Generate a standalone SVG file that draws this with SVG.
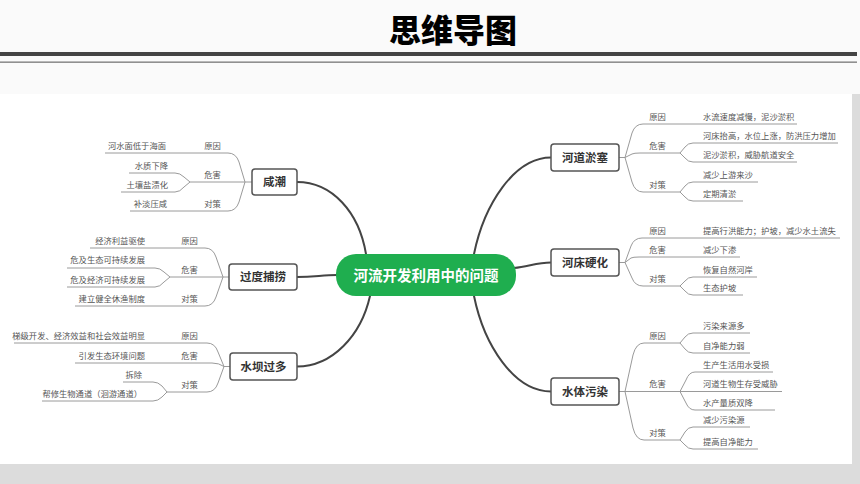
<svg xmlns="http://www.w3.org/2000/svg" width="860" height="484" viewBox="0 0 860 484">
<style>
.t{font-family:"Noto Sans CJK SC","Noto Sans",sans-serif}
.leaf{font-family:"Noto Sans CJK SC",sans-serif;font-size:8.3px;fill:#555}
.lr{text-anchor:end}
.cat{font-family:"Noto Sans CJK SC",sans-serif;font-size:8.3px;fill:#555;text-anchor:middle}
.br{fill:none;stroke:#9a9a9a;stroke-width:1}
.main{fill:none;stroke:#444;stroke-width:2;stroke-linecap:round}
.box{fill:#fff;stroke:#555;stroke-width:1.5}
.mt{font-family:"Noto Sans CJK SC",sans-serif;font-size:11.5px;font-weight:bold;fill:#333;text-anchor:middle}
</style>
<rect x="0" y="0" width="860" height="484" fill="#fafafa"/>
<rect x="0" y="94" width="852" height="370" fill="#ffffff"/>
<rect x="852" y="94" width="8" height="390" fill="#dcdcdc"/>
<rect x="0" y="464" width="860" height="20" fill="#dcdcdc"/>
<rect x="0" y="52" width="857" height="4" fill="#444"/>
<rect x="0" y="61.5" width="857" height="1.3" fill="#777"/>
<text class="t" x="453" y="42" font-size="32" font-weight="900" text-anchor="middle" fill="#000">思维导图</text>

<g id="connectors">
<path class="main" d="M297,182 C332,182 359,212 366,254"/>
<path class="main" d="M297,277 C315,277 322,275 337,275"/>
<path class="main" d="M297,366.5 C332,366.5 361,336 370,296"/>
<path class="main" d="M551,157.5 C514,157.5 484,205 474,254"/>
<path class="main" d="M551,262.5 C536,262.5 528,267 514,268"/>
<path class="main" d="M551,391.5 C514,391.5 484,345 474,296"/>

<!-- 咸潮 -->
<path class="br" d="M105,153 H228 Q236,153 239,162 L245,182 H252"/>
<path class="br" d="M190,182 H245"/>
<path class="br" d="M130,211 H228 Q236,211 239,202 L245,182"/>
<path class="br" d="M190,182 L184,177 Q180,173 175,173 H129"/>
<path class="br" d="M190,182 L184,187 Q180,192 175,192 H121"/>
<!-- 过度捕捞 -->
<path class="br" d="M90,248 H205 Q213,248 216,257 L223,277 H229"/>
<path class="br" d="M170,277 H223"/>
<path class="br" d="M75,306 H205 Q213,306 216,297 L223,277"/>
<path class="br" d="M170,277 L164,272 Q160,268 155,268 H67"/>
<path class="br" d="M170,277 L164,282 Q160,287 155,287 H67"/>
<!-- 水坝过多 -->
<path class="br" d="M14,343 H207 Q215,343 218,352 L224,366.5 H230"/>
<path class="br" d="M75,363 H212 Q219,363 224,366.5"/>
<path class="br" d="M167,392 H207 Q215,392 218,383 L224,366.5"/>
<path class="br" d="M167,392 L162,386 Q158,382 153,382 H123"/>
<path class="br" d="M167,392 L162,397 Q158,401 153,401 H42"/>
<!-- 河道淤塞 -->
<path class="br" d="M619,157.5 H625 L632,133 Q635,124 643,124 H797"/>
<path class="br" d="M625,157.5 L632,154 Q634,153 640,153 H680"/>
<path class="br" d="M680,153 L685,147 Q688,143 693,143 H838"/>
<path class="br" d="M680,153 L685,158 Q688,162 693,162 H797"/>
<path class="br" d="M625,157.5 L632,182 Q635,192 643,192 H680"/>
<path class="br" d="M680,192 L685,186 Q688,182 693,182 H758"/>
<path class="br" d="M680,192 L685,197 Q688,201 693,201 H743"/>
<!-- 河床硬化 -->
<path class="br" d="M619,262.5 H625 L631,246 Q634,238 642,238 H840"/>
<path class="br" d="M625,262.5 L631,258 Q633,257 639,257 H740"/>
<path class="br" d="M625,262.5 L632,278 Q635,286 643,286 H680"/>
<path class="br" d="M680,286 L685,281 Q688,277 693,277 H757"/>
<path class="br" d="M680,286 L685,291 Q688,295 693,295 H743"/>
<!-- 水体污染 -->
<path class="br" d="M619,391.5 H625 L633,355 Q636,343 644,343 H680"/>
<path class="br" d="M680,343 L685,337 Q688,333 693,333 H750"/>
<path class="br" d="M680,343 L685,349 Q688,353 693,353 H750"/>
<path class="br" d="M625,391.5 H782"/>
<path class="br" d="M680,391.5 L686,380 Q689,372 695,372 H773"/>
<path class="br" d="M680,391.5 L686,403 Q689,410 695,410 H775"/>
<path class="br" d="M625,391.5 L633,428 Q636,440 644,440 H680"/>
<path class="br" d="M680,440 L685,432 Q688,427 693,427 H750"/>
<path class="br" d="M680,440 L685,445 Q688,449 693,449 H758"/>
</g>

<g id="center">
<rect x="336" y="254" width="180" height="42" rx="20" fill="#1fae4f"/>
<text class="t" x="426" y="280.5" font-size="14.5" font-weight="bold" fill="#fff" text-anchor="middle">河流开发利用中的问题</text>
</g>

<g id="xianchao">
<rect class="box" x="252" y="169" width="45" height="26" rx="3"/>
<text class="mt" x="274.5" y="186">咸潮</text>
<text class="leaf lr" x="166" y="148.5">河水面低于海面</text>
<text class="cat" x="212.5" y="148.5">原因</text>
<text class="leaf lr" x="168" y="168.5">水质下降</text>
<text class="leaf lr" x="168" y="187.5">土壤盐渍化</text>
<text class="cat" x="212.5" y="177.5">危害</text>
<text class="leaf lr" x="167" y="206.5">补淡压咸</text>
<text class="cat" x="212.5" y="206.5">对策</text>
</g>

<g id="guodubulao">
<rect class="box" x="229" y="264" width="68" height="26" rx="3"/>
<text class="mt" x="263" y="281">过度捕捞</text>
<text class="leaf lr" x="145" y="243.5">经济利益驱使</text>
<text class="cat" x="189.5" y="243.5">原因</text>
<text class="leaf lr" x="145" y="263">危及生态可持续发展</text>
<text class="leaf lr" x="145" y="282.5">危及经济可持续发展</text>
<text class="cat" x="189.5" y="272.5">危害</text>
<text class="leaf lr" x="145" y="301.5">建立健全休渔制度</text>
<text class="cat" x="189.5" y="301.5">对策</text>
</g>

<g id="shuibaguoduo">
<rect class="box" x="230" y="353" width="67" height="27" rx="3"/>
<text class="mt" x="263.5" y="370.5">水坝过多</text>
<text class="leaf lr" x="145" y="338.5">梯级开发、经济效益和社会效益明显</text>
<text class="cat" x="189.5" y="338.5">原因</text>
<text class="leaf lr" x="145" y="358.5">引发生态环境问题</text>
<text class="cat" x="189.5" y="358.5">危害</text>
<text class="leaf lr" x="142" y="377.5">拆除</text>
<text class="leaf lr" x="142" y="396.5">帮修生物通道（洄游通道）</text>
<text class="cat" x="189.5" y="387.5">对策</text>
</g>

<g id="hedaoyuse">
<rect class="box" x="551" y="144" width="68" height="27" rx="3"/>
<text class="mt" x="585" y="161.5">河道淤塞</text>
<text class="cat" x="657.5" y="119.5">原因</text>
<text class="leaf" x="703" y="119.5">水流速度减慢，泥沙淤积</text>
<text class="cat" x="657.5" y="148.5">危害</text>
<text class="leaf" x="703" y="138.5">河床抬高，水位上涨，防洪压力增加</text>
<text class="leaf" x="703" y="157.5">泥沙淤积，威胁航道安全</text>
<text class="cat" x="657.5" y="187.5">对策</text>
<text class="leaf" x="703" y="177.5">减少上游来沙</text>
<text class="leaf" x="703" y="196.5">定期清淤</text>
</g>

<g id="hechuangyinghua">
<rect class="box" x="551" y="249" width="68" height="27" rx="3"/>
<text class="mt" x="585" y="266.5">河床硬化</text>
<text class="cat" x="657.5" y="233.5">原因</text>
<text class="leaf" x="703" y="233.5">提高行洪能力；护坡，减少水土流失</text>
<text class="cat" x="657.5" y="252.5">危害</text>
<text class="leaf" x="703" y="252.5">减少下渗</text>
<text class="cat" x="657.5" y="282">对策</text>
<text class="leaf" x="703" y="272.5">恢复自然河岸</text>
<text class="leaf" x="703" y="290.5">生态护坡</text>
</g>

<g id="shuitiwuran">
<rect class="box" x="551" y="378" width="68" height="27" rx="3"/>
<text class="mt" x="585" y="395.5">水体污染</text>
<text class="cat" x="657.5" y="338.5">原因</text>
<text class="leaf" x="703" y="328.5">污染来源多</text>
<text class="leaf" x="703" y="348.5">自净能力弱</text>
<text class="cat" x="657.5" y="387">危害</text>
<text class="leaf" x="703" y="367.5">生产生活用水受损</text>
<text class="leaf" x="703" y="387">河道生物生存受威胁</text>
<text class="leaf" x="703" y="405.5">水产量质双降</text>
<text class="cat" x="657.5" y="435.5">对策</text>
<text class="leaf" x="703" y="422.5">减少污染源</text>
<text class="leaf" x="703" y="444.5">提高自净能力</text>
</g>
</svg>
